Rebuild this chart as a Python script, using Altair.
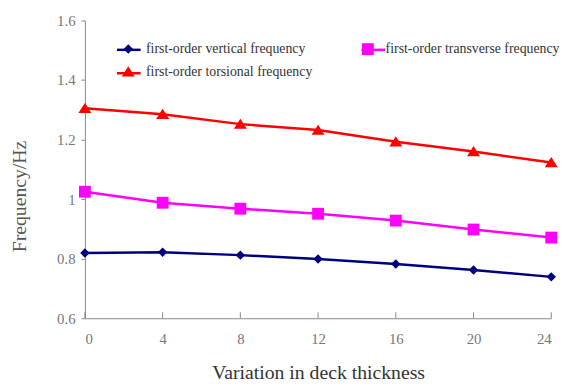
import altair as alt
import pandas as pd

thickness = [0, 4, 8, 12, 16, 20, 24]
# order chosen so that the 2-column legend reads like the reference
series_names = [
    "first-order vertical frequency",
    "first-order torsional frequency",
    "first-order transverse frequency",
]
vertical = [0.819, 0.822, 0.812, 0.799, 0.782, 0.762, 0.739]
torsional = [1.305, 1.285, 1.252, 1.232, 1.193, 1.160, 1.123]
transverse = [1.025, 0.988, 0.968, 0.951, 0.928, 0.898, 0.871]
colors = ["#00007F", "#FF0000", "#FF00FF"]
shapes = [
    "M0,-0.4L0.4,0L0,0.4L-0.4,0Z",
    "M0,-0.46L0.55,0.4H-0.55Z",
    "M-0.5,-0.5H0.5V0.5H-0.5Z",
]
y_ticks = [0.6, 0.8, 1.0, 1.2, 1.4, 1.6]
x_ticks = [0, 4, 8, 12, 16, 20, 24]
tick_base = [0.6] * len(x_ticks)
tick_top = [0.62] * len(x_ticks)

rows = []
for name, vals in zip(series_names, [vertical, torsional, transverse]):
    for t, v in zip(thickness, vals):
        rows.append({"t": t, "f": v, "s": name, "s2": name})
df = pd.DataFrame(rows)
tick_df = pd.DataFrame({"t": x_ticks, "y0": tick_base, "y1": tick_top})

FONT = "Liberation Serif"
legend_common = dict(
    orient="none", legendX=31, legendY=16, columns=2,
    rowPadding=3, title=None, symbolSize=576, labelFont=FONT,
    labelFontSize=14, labelColor="#333333", labelOffset=5, padding=0,
    labelLimit=400,
)

xs = alt.Scale(domain=[0, 24], nice=False, zero=False)
ys = alt.Scale(domain=[0.6, 1.6], nice=False, zero=False)

x_enc = alt.X("t:Q", scale=xs, axis=alt.Axis(
    values=x_ticks, title="Variation in deck thickness", tickSize=0,
    labelPadding=14, labelFontSize=15, titleFontSize=20, titleY=61,
    titleBaseline="alphabetic", titleColor="#333333"))
y_enc = alt.Y("f:Q", scale=ys, axis=alt.Axis(
    values=y_ticks, format="~g", title="Frequency/Hz", tickSize=4,
    labelPadding=6, labelFontSize=15, titleFontSize=20, titleX=-66,
    titleY=178, titleBaseline="middle", titleAlign="center",
    titleColor="#555555"))

ticks = alt.Chart(tick_df).mark_rule(color="#888888", strokeWidth=1).encode(
    x=alt.X("t:Q", scale=xs), y=alt.Y("y0:Q", scale=ys), y2="y1:Q")

lines = alt.Chart(df).mark_line(strokeWidth=2.5).encode(
    x=x_enc, y=y_enc,
    color=alt.Color("s:N", scale=alt.Scale(domain=series_names, range=colors),
                    legend=alt.Legend(symbolType="stroke", symbolStrokeWidth=2.5,
                                      labelExpr="''", columnPadding=212,
                                      **legend_common)),
    detail="s:N",
)

points = alt.Chart(df).mark_point(filled=True, size=576, opacity=1).encode(
    x=x_enc, y=y_enc,
    color=alt.Color("s2:N", scale=alt.Scale(domain=series_names, range=colors),
                    legend=alt.Legend(columnPadding=43, **legend_common)),
    shape=alt.Shape("s2:N", scale=alt.Scale(domain=series_names, range=shapes),
                    legend=alt.Legend(columnPadding=43, **legend_common)),
)

chart = alt.layer(ticks, lines, points).resolve_scale(
    color="independent", shape="independent"
).resolve_legend(color="independent", shape="independent").properties(
    width=473, height=302,
    autosize=alt.AutoSizeParams(type="none"),
    padding={"left": 78, "top": 10, "right": 17, "bottom": 64},
).configure_view(stroke=None).configure_axis(
    domainColor="#888888", tickColor="#888888", labelColor="#777777",
    labelFont=FONT, titleFont=FONT, titleFontWeight="normal", grid=False,
)

chart.save("out.html", embed_options={"renderer": "svg", "actions": False})
